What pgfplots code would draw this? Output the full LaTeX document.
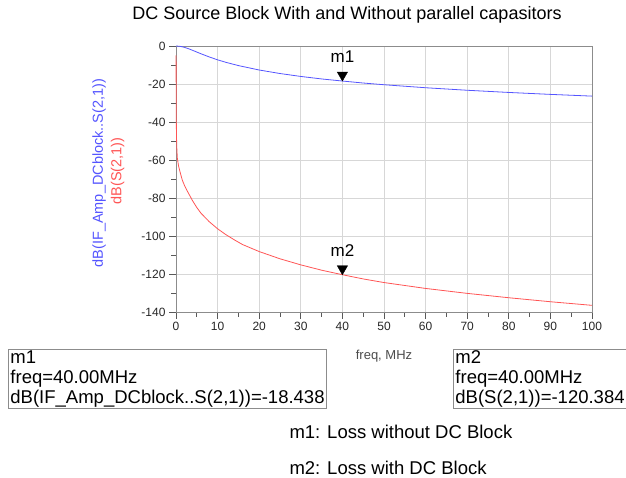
\documentclass[border=0pt]{standalone}
\usepackage{pgfplots}
\pgfplotsset{compat=1.18}
\usepackage{fontspec}
\setmainfont{Liberation Sans}
\definecolor{bl}{RGB}{85,85,255}
\definecolor{rd}{RGB}{255,85,85}
\definecolor{gridc}{RGB}{215,215,215}
\definecolor{axc}{RGB}{140,140,140}
\begin{document}
\begin{tikzpicture}[x=1pt,y=1pt]
\useasboundingbox (0,0) rectangle (626,478);
\begin{axis}[
  at={(176pt,166pt)}, anchor=south west,
  width=416pt, height=266pt, scale only axis,
  xmin=0, xmax=100, ymin=-140, ymax=0,
  xtick={0,10,...,100}, ytick={-140,-120,...,0},
  minor x tick num=1, minor y tick num=1,
  xtick pos=left, ytick pos=left, tick align=outside,
  major tick length=7pt, minor tick length=5pt,
  grid=major, major grid style={color=gridc, line width=0.8pt},
  axis line style={color=axc, line width=0.9pt},
  tick style={color=black!65, line width=0.7pt},
  ticklabel style={font=\fontsize{12}{12}\selectfont, color=black!85},
  /pgf/number format/assume math mode=true,
  clip=false,
]
\addplot[color=bl, line width=0.8pt] coordinates {
(0,0) (1,-0.18) (2,-0.70) (3,-1.43) (4,-2.29) (5,-3.19) (6,-4.09) (8,-5.77)
(10,-7.28) (12,-8.60) (15,-10.31) (20,-12.64) (25,-14.49) (30,-16.03)
(35,-17.34) (40,-18.44) (45,-19.49) (50,-20.39) (60,-21.97) (70,-23.30)
(80,-24.45) (90,-25.47) (100,-26.38)
};
\addplot[color=rd, line width=0.8pt] coordinates {
(0.02,-5) (0.05,-32) (0.1,-45) (0.18,-53) (0.32,-59) (0.6,-63) (1,-66.5)
(1.5,-70.5) (2,-73.2) (2.8,-76.7) (4,-81.5) (5,-85) (6,-88) (8,-92.5) (10,-96.2)
(12,-99.3) (14,-102) (16,-104.5) (20,-108.2) (25,-112) (30,-115.2) (35,-118) (40,-120.38)
(45,-122.6) (50,-124.5) (60,-127.6) (70,-130.2) (80,-132.5) (90,-134.6) (100,-136.5)
};
\addplot[only marks, mark=triangle*, mark size=6pt,
  mark options={draw=black, fill=black, yshift=6pt, rotate=180},
  nodes near coords={m1},
  every node near coord/.append style={anchor=center, yshift=18pt, font=\fontsize{17}{17}\selectfont, text=black}]
  coordinates {(40,-18.438)};
\addplot[only marks, mark=triangle*, mark size=6pt,
  mark options={draw=black, fill=black, yshift=6pt, rotate=180},
  nodes near coords={m2},
  every node near coord/.append style={anchor=center, yshift=18pt, font=\fontsize{17}{17}\selectfont, text=black}]
  coordinates {(40,-120.384)};
\end{axis}
% title
\node[font=\fontsize{18}{18}\selectfont] at (347,463) {DC Source Block With and Without parallel capasitors};
% y labels
\node[rotate=90, text=bl, font=\fontsize{14.5}{14.5}\selectfont] at (99,305) {dB(IF\_Amp\_DCblock..S(2,1))};
\node[rotate=90, text=rd, font=\fontsize{14.5}{14.5}\selectfont] at (117.5,307) {dB(S(2,1))};
% x label
\node[text=black!70, font=\fontsize{13}{13}\selectfont] at (384,122) {freq, MHz};
% marker boxes
\node[draw=axc, line width=0.9pt, anchor=north west, align=left, inner xsep=2pt, inner ysep=1pt,
  font=\fontsize{18.5}{20}\selectfont] at (8,129)
  {m1\\freq=40.00MHz\\dB(IF\_Amp\_DCblock..S(2,1))=-18.438};
\node[draw=axc, line width=0.9pt, anchor=north west, align=left, inner xsep=2pt, inner ysep=1pt,
  font=\fontsize{18.5}{20}\selectfont] at (453,129)
  {m2\\freq=40.00MHz\\dB(S(2,1))=-120.384};
% notes
\node[anchor=west, font=\fontsize{18.5}{18.5}\selectfont] at (286,46) {m1: Loss without DC Block};
\node[anchor=west, font=\fontsize{18.5}{18.5}\selectfont] at (286,10) {m2: Loss with DC Block};
\end{tikzpicture}
\end{document}
